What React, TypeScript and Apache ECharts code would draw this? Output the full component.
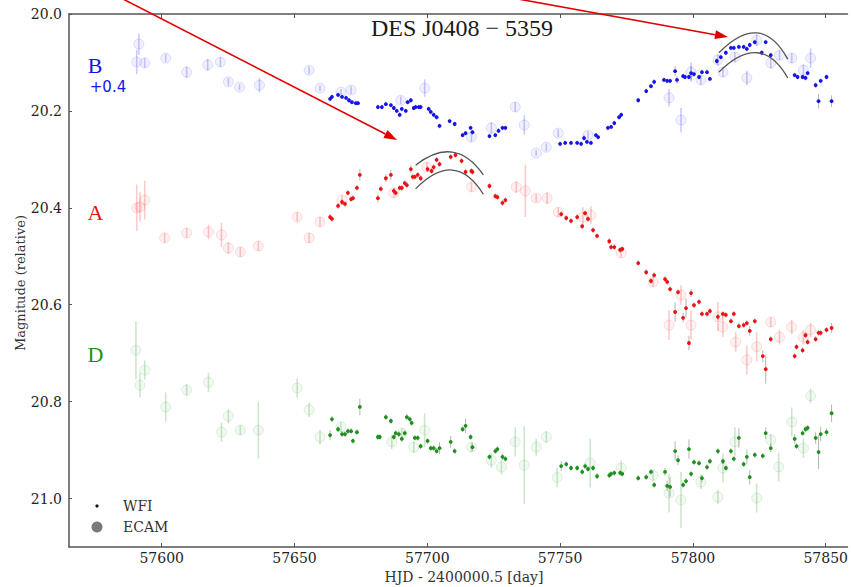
import React, { useEffect, useRef } from "react";
import * as echarts from "echarts";

// [HJD - 2400000.5, magnitude, 1-sigma error]
type Pt = [number, number, number];

const DAY_TICKS = [57600, 57650, 57700, 57750, 57800, 57850];
const MAG_TICKS = [20.0, 20.2, 20.4, 20.6, 20.8, 21.0];

// Image B (plotted with +0.4 offset)
const bEcam: Pt[] = [
  [57591.4, 20.062, 0.022], [57590.6, 20.099, 0.025], [57593.6, 20.101, 0.01], [57601.5, 20.091, 0.008],
  [57609.4, 20.12, 0.012], [57617.3, 20.105, 0.012], [57622.1, 20.099, 0.01], [57625.1, 20.14, 0.008],
  [57629.3, 20.151, 0.006], [57636.8, 20.147, 0.015], [57655.5, 20.116, 0.008], [57659.6, 20.153, 0.006],
  [57667.5, 20.161, 0.006], [57671.3, 20.157, 0.008], [57690.0, 20.178, 0.008], [57699.0, 20.153, 0.018],
  [57716.6, 20.254, 0.01], [57724.1, 20.235, 0.012], [57733.1, 20.192, 0.01], [57736.5, 20.229, 0.02],
  [57741.0, 20.287, 0.006], [57744.8, 20.275, 0.008], [57749.3, 20.246, 0.008], [57760.5, 20.25, 0.008],
  [57791.0, 20.173, 0.018], [57795.5, 20.219, 0.025], [57799.3, 20.12, 0.02], [57803.0, 20.136, 0.01],
  [57809.4, 20.095, 0.012], [57811.3, 20.12, 0.01], [57815.8, 20.089, 0.01], [57820.3, 20.132, 0.015],
  [57824.0, 20.054, 0.012], [57829.3, 20.101, 0.012], [57832.6, 20.085, 0.01], [57837.2, 20.091, 0.01],
  [57841.6, 20.116, 0.012], [57844.3, 20.091, 0.02],
];

const bWfi: Pt[] = [
  [57663.4, 20.175, 0.005], [57664.1, 20.171, 0.005], [57666.4, 20.167, 0.005], [57667.9, 20.171, 0.005],
  [57669.4, 20.173, 0.005], [57670.5, 20.178, 0.005], [57671.6, 20.182, 0.005], [57673.1, 20.184, 0.005],
  [57673.9, 20.184, 0.005], [57681.4, 20.192, 0.005], [57682.9, 20.192, 0.005], [57684.4, 20.186, 0.005],
  [57686.3, 20.188, 0.005], [57687.4, 20.194, 0.005], [57688.5, 20.2, 0.005], [57689.6, 20.208, 0.005],
  [57690.4, 20.196, 0.005], [57691.9, 20.2, 0.005], [57692.6, 20.182, 0.005], [57693.8, 20.178, 0.005],
  [57694.9, 20.194, 0.005], [57695.6, 20.192, 0.005], [57696.8, 20.192, 0.005], [57697.5, 20.192, 0.005],
  [57700.5, 20.196, 0.005], [57701.3, 20.202, 0.005], [57702.4, 20.208, 0.005], [57703.5, 20.213, 0.005],
  [57704.6, 20.231, 0.005], [57708.4, 20.221, 0.005], [57710.3, 20.227, 0.005], [57713.3, 20.25, 0.005],
  [57714.4, 20.246, 0.005], [57716.3, 20.235, 0.005], [57717.0, 20.244, 0.005], [57723.4, 20.252, 0.005],
  [57725.6, 20.25, 0.005], [57726.8, 20.241, 0.005], [57728.3, 20.235, 0.005], [57729.4, 20.235, 0.005],
  [57750.0, 20.268, 0.005], [57751.9, 20.266, 0.005], [57754.1, 20.266, 0.005], [57756.4, 20.266, 0.005],
  [57757.9, 20.268, 0.005], [57759.0, 20.256, 0.006], [57760.1, 20.264, 0.005], [57761.6, 20.266, 0.005],
  [57763.5, 20.25, 0.005], [57764.3, 20.254, 0.005], [57768.0, 20.235, 0.005], [57769.2, 20.233, 0.005],
  [57770.4, 20.225, 0.005], [57772.2, 20.213, 0.005], [57773.0, 20.208, 0.005], [57779.4, 20.178, 0.005],
  [57782.4, 20.159, 0.005], [57784.2, 20.149, 0.005], [57785.4, 20.14, 0.006], [57789.1, 20.136, 0.005],
  [57790.3, 20.138, 0.005], [57791.4, 20.138, 0.005], [57793.3, 20.118, 0.01], [57794.0, 20.136, 0.008],
  [57796.3, 20.128, 0.005], [57797.0, 20.13, 0.005], [57798.5, 20.13, 0.005], [57799.3, 20.122, 0.015],
  [57800.4, 20.124, 0.005], [57802.3, 20.13, 0.005], [57803.4, 20.12, 0.005], [57805.3, 20.12, 0.005],
  [57806.4, 20.134, 0.005], [57809.0, 20.097, 0.006], [57810.5, 20.089, 0.005], [57812.4, 20.08, 0.005],
  [57814.3, 20.07, 0.005], [57815.4, 20.07, 0.005], [57817.3, 20.068, 0.005], [57819.1, 20.068, 0.005],
  [57820.3, 20.072, 0.005], [57821.4, 20.064, 0.005], [57823.3, 20.058, 0.005], [57825.9, 20.08, 0.005],
  [57827.4, 20.058, 0.005], [57829.3, 20.085, 0.005], [57838.3, 20.126, 0.005], [57839.4, 20.13, 0.005],
  [57841.3, 20.13, 0.005], [57842.4, 20.132, 0.005], [57843.2, 20.122, 0.005], [57846.2, 20.147, 0.006],
  [57848.1, 20.138, 0.005], [57850.3, 20.13, 0.005], [57847.3, 20.18, 0.015], [57852.2, 20.18, 0.012],
];

// Image A
const aEcam: Pt[] = [
  [57590.6, 20.4, 0.048], [57591.8, 20.398, 0.03], [57593.6, 20.384, 0.04], [57601.1, 20.462, 0.01],
  [57609.4, 20.452, 0.01], [57617.6, 20.45, 0.015], [57622.5, 20.456, 0.025], [57625.1, 20.483, 0.012],
  [57629.6, 20.491, 0.01], [57636.4, 20.479, 0.01], [57651.0, 20.419, 0.01], [57655.5, 20.462, 0.01],
  [57659.6, 20.429, 0.01], [57667.9, 20.384, 0.01], [57687.4, 20.369, 0.01], [57699.8, 20.316, 0.01],
  [57716.6, 20.357, 0.01], [57733.5, 20.357, 0.012], [57736.9, 20.365, 0.054], [57741.0, 20.38, 0.008],
  [57745.1, 20.38, 0.012], [57749.3, 20.409, 0.01], [57758.6, 20.419, 0.02], [57761.6, 20.415, 0.018],
  [57773.0, 20.493, 0.01], [57785.0, 20.553, 0.01], [57791.0, 20.642, 0.031], [57795.5, 20.58, 0.02],
  [57799.3, 20.642, 0.03], [57809.4, 20.625, 0.03], [57811.3, 20.646, 0.02], [57816.1, 20.677, 0.02],
  [57820.3, 20.714, 0.03], [57824.0, 20.687, 0.03], [57829.3, 20.636, 0.01], [57832.6, 20.667, 0.015],
  [57837.2, 20.646, 0.015], [57841.6, 20.667, 0.015], [57844.3, 20.652, 0.015],
];

const aWfi: Pt[] = [
  [57663.4, 20.419, 0.006], [57664.1, 20.423, 0.006], [57666.4, 20.396, 0.006], [57667.9, 20.388, 0.006],
  [57669.0, 20.392, 0.006], [57670.1, 20.369, 0.006], [57671.3, 20.382, 0.006], [57672.0, 20.38, 0.006],
  [57673.5, 20.359, 0.006], [57674.6, 20.332, 0.012], [57681.4, 20.38, 0.008], [57682.5, 20.361, 0.006],
  [57684.4, 20.339, 0.008], [57686.3, 20.332, 0.01], [57687.4, 20.365, 0.006], [57688.1, 20.369, 0.006],
  [57689.6, 20.359, 0.006], [57690.4, 20.359, 0.006], [57691.5, 20.349, 0.006], [57692.3, 20.353, 0.006],
  [57693.8, 20.32, 0.008], [57694.5, 20.336, 0.006], [57695.3, 20.336, 0.006], [57696.4, 20.332, 0.006],
  [57697.5, 20.339, 0.006], [57700.1, 20.32, 0.006], [57701.6, 20.324, 0.006], [57702.4, 20.316, 0.006],
  [57703.5, 20.301, 0.006], [57704.6, 20.31, 0.006], [57708.8, 20.295, 0.006], [57710.6, 20.291, 0.006],
  [57712.9, 20.303, 0.006], [57714.4, 20.326, 0.006], [57716.6, 20.324, 0.006], [57717.0, 20.326, 0.006],
  [57723.4, 20.355, 0.006], [57725.6, 20.376, 0.006], [57726.4, 20.378, 0.006], [57728.3, 20.39, 0.006],
  [57729.4, 20.384, 0.006], [57750.4, 20.413, 0.006], [57752.3, 20.421, 0.006], [57754.1, 20.427, 0.006],
  [57756.4, 20.419, 0.006], [57758.3, 20.438, 0.006], [57759.4, 20.411, 0.006], [57760.5, 20.423, 0.006],
  [57762.4, 20.446, 0.006], [57763.9, 20.458, 0.006], [57768.5, 20.469, 0.006], [57769.2, 20.481, 0.006],
  [57770.4, 20.481, 0.006], [57772.6, 20.487, 0.006], [57773.4, 20.485, 0.006], [57779.4, 20.514, 0.006],
  [57782.4, 20.533, 0.006], [57784.2, 20.551, 0.006], [57785.4, 20.539, 0.006], [57789.5, 20.547, 0.006],
  [57790.3, 20.553, 0.006], [57791.4, 20.568, 0.006], [57793.3, 20.615, 0.02], [57794.4, 20.574, 0.006],
  [57796.3, 20.627, 0.01], [57797.4, 20.607, 0.02], [57798.5, 20.679, 0.015], [57799.3, 20.576, 0.008],
  [57800.4, 20.601, 0.006], [57802.3, 20.594, 0.006], [57803.4, 20.619, 0.006], [57805.3, 20.619, 0.006],
  [57806.4, 20.613, 0.006], [57809.4, 20.625, 0.006], [57811.3, 20.619, 0.006], [57812.4, 20.621, 0.006],
  [57814.3, 20.634, 0.006], [57815.4, 20.619, 0.006], [57817.3, 20.644, 0.006], [57819.1, 20.642, 0.006],
  [57820.3, 20.638, 0.006], [57821.4, 20.654, 0.01], [57823.3, 20.634, 0.006], [57826.3, 20.706, 0.012],
  [57827.4, 20.733, 0.03], [57829.3, 20.671, 0.006], [57838.3, 20.706, 0.006], [57839.0, 20.687, 0.006],
  [57841.3, 20.694, 0.006], [57842.4, 20.663, 0.006], [57843.2, 20.677, 0.006], [57846.2, 20.671, 0.006],
  [57847.3, 20.658, 0.006], [57848.1, 20.658, 0.006], [57850.3, 20.652, 0.006], [57852.2, 20.648, 0.01],
];

// Image D
const dEcam: Pt[] = [
  [57590.3, 20.694, 0.06], [57593.6, 20.735, 0.02], [57591.8, 20.766, 0.025], [57601.5, 20.811, 0.03],
  [57609.4, 20.776, 0.012], [57617.6, 20.76, 0.02], [57622.5, 20.863, 0.02], [57625.1, 20.83, 0.015],
  [57629.6, 20.859, 0.01], [57636.4, 20.859, 0.058], [57651.0, 20.772, 0.02], [57655.5, 20.817, 0.015],
  [57659.6, 20.873, 0.015], [57667.5, 20.852, 0.01], [57686.6, 20.883, 0.015], [57690.4, 20.865, 0.01],
  [57694.9, 20.894, 0.012], [57699.0, 20.859, 0.035], [57716.6, 20.894, 0.01], [57724.1, 20.921, 0.015],
  [57727.9, 20.935, 0.015], [57733.1, 20.883, 0.03], [57736.5, 20.931, 0.08], [57741.0, 20.894, 0.018],
  [57744.8, 20.873, 0.012], [57748.9, 20.956, 0.02], [57761.3, 20.927, 0.05], [57773.0, 20.937, 0.015],
  [57785.0, 20.952, 0.012], [57791.0, 20.989, 0.04], [57795.5, 21.003, 0.058], [57803.0, 20.966, 0.015],
  [57809.4, 20.997, 0.015], [57811.3, 20.937, 0.03], [57815.8, 20.883, 0.03], [57824.0, 20.999, 0.03],
  [57829.3, 20.879, 0.012], [57832.3, 20.935, 0.03], [57837.2, 20.842, 0.03], [57841.6, 20.896, 0.02],
  [57844.3, 20.788, 0.015],
];

const dWfi: Pt[] = [
  [57663.4, 20.869, 0.01], [57664.1, 20.836, 0.006], [57666.4, 20.857, 0.006], [57667.9, 20.867, 0.006],
  [57669.0, 20.867, 0.006], [57670.1, 20.861, 0.006], [57671.3, 20.861, 0.006], [57672.0, 20.881, 0.006],
  [57673.5, 20.863, 0.006], [57674.6, 20.811, 0.017], [57681.4, 20.873, 0.006], [57682.1, 20.873, 0.006],
  [57684.4, 20.832, 0.006], [57686.3, 20.84, 0.006], [57687.4, 20.873, 0.006], [57688.1, 20.865, 0.006],
  [57689.3, 20.867, 0.006], [57690.4, 20.877, 0.006], [57691.5, 20.865, 0.006], [57692.3, 20.832, 0.006],
  [57693.4, 20.836, 0.006], [57694.1, 20.844, 0.006], [57695.3, 20.875, 0.006], [57696.4, 20.875, 0.006],
  [57697.5, 20.892, 0.006], [57700.1, 20.881, 0.006], [57701.3, 20.896, 0.006], [57702.4, 20.896, 0.006],
  [57703.5, 20.902, 0.006], [57704.6, 20.896, 0.012], [57708.8, 20.883, 0.012], [57710.3, 20.902, 0.006],
  [57713.3, 20.857, 0.006], [57714.4, 20.85, 0.015], [57716.3, 20.873, 0.006], [57717.0, 20.894, 0.008],
  [57723.4, 20.914, 0.006], [57725.6, 20.902, 0.006], [57726.4, 20.898, 0.006], [57728.3, 20.914, 0.006],
  [57729.4, 20.918, 0.006], [57750.4, 20.933, 0.01], [57752.3, 20.929, 0.006], [57754.1, 20.937, 0.006],
  [57756.4, 20.937, 0.006], [57758.3, 20.945, 0.006], [57759.4, 20.933, 0.006], [57760.5, 20.939, 0.006],
  [57762.4, 20.937, 0.006], [57763.9, 20.954, 0.006], [57768.5, 20.952, 0.006], [57769.2, 20.949, 0.006],
  [57770.4, 20.947, 0.006], [57772.6, 20.947, 0.006], [57773.4, 20.949, 0.006], [57779.4, 20.958, 0.006],
  [57782.4, 20.956, 0.006], [57784.2, 20.945, 0.006], [57785.4, 20.972, 0.006], [57789.5, 20.945, 0.008],
  [57790.3, 20.974, 0.01], [57791.4, 20.976, 0.02], [57793.3, 20.902, 0.02], [57794.4, 20.921, 0.01],
  [57796.3, 20.972, 0.006], [57797.4, 20.964, 0.006], [57798.5, 20.898, 0.02], [57799.3, 20.949, 0.006],
  [57800.4, 20.925, 0.006], [57802.3, 20.927, 0.006], [57803.4, 20.958, 0.008], [57805.3, 20.935, 0.006],
  [57806.4, 20.923, 0.006], [57809.4, 20.902, 0.006], [57811.3, 20.923, 0.006], [57812.4, 20.937, 0.006],
  [57814.3, 20.902, 0.006], [57815.4, 20.918, 0.006], [57817.3, 20.875, 0.02], [57819.1, 20.929, 0.006],
  [57820.3, 20.914, 0.015], [57821.4, 20.956, 0.015], [57823.3, 20.91, 0.006], [57826.3, 20.912, 0.006],
  [57827.4, 20.865, 0.012], [57829.3, 20.896, 0.008], [57838.3, 20.877, 0.01], [57839.0, 20.892, 0.006],
  [57841.3, 20.865, 0.006], [57842.4, 20.857, 0.006], [57843.2, 20.854, 0.006], [57846.2, 20.875, 0.012],
  [57847.3, 20.904, 0.035], [57848.1, 20.867, 0.015], [57850.3, 20.863, 0.008], [57852.2, 20.824, 0.018],
];

// Parabolic guide arcs around the two light-curve maxima: [start, peak, end]
const arcAUpper: [number, number][] = [[57695.6, 20.312], [57709.4, 20.285], [57721.1, 20.332]];
const arcALower: [number, number][] = [[57695.6, 20.361], [57709.4, 20.322], [57721.1, 20.372]];
const arcBUpper: [number, number][] = [[57809.8, 20.080], [57824.1, 20.039], [57835.7, 20.093]];
const arcBLower: [number, number][] = [[57809.8, 20.120], [57824.1, 20.080], [57835.7, 20.132]];

const BLUE = "#1414e6";
const RED = "#ee1111";
const GREEN = "#1c921c";

function rgba(hex: string, a: number) {
  const n = parseInt(hex.slice(1), 16);
  return `rgba(${(n >> 16) & 255},${(n >> 8) & 255},${n & 255},${a})`;
}

function ecamSeries(data: Pt[], color: string) {
  return {
    type: "custom",
    xAxisIndex: 0,
    yAxisIndex: 0,
    data,
    z: 2,
    renderItem: (_p: any, api: any) => {
      const x = api.value(0), y = api.value(1), e = api.value(2);
      const c = api.coord([x, y]);
      const t = api.coord([x, y - e]);
      const b = api.coord([x, y + e]);
      return {
        type: "group",
        children: [
          { type: "line", shape: { x1: c[0], y1: t[1], x2: c[0], y2: b[1] }, style: { stroke: rgba(color, 0.22), lineWidth: 1.6 } },
          { type: "circle", shape: { cx: c[0], cy: c[1], r: 5 }, style: { fill: rgba(color, 0.06), stroke: rgba(color, 0.13), lineWidth: 1 } },
        ],
      };
    },
  };
}

function wfiSeries(data: Pt[], color: string) {
  return {
    type: "custom",
    xAxisIndex: 0,
    yAxisIndex: 0,
    data,
    z: 3,
    renderItem: (_p: any, api: any) => {
      const x = api.value(0), y = api.value(1), e = api.value(2);
      const c = api.coord([x, y]);
      const t = api.coord([x, y - e]);
      const b = api.coord([x, y + e]);
      return {
        type: "group",
        children: [
          { type: "line", shape: { x1: c[0], y1: t[1], x2: c[0], y2: b[1] }, style: { stroke: "rgba(110,110,110,0.5)", lineWidth: 1 } },
          { type: "circle", shape: { cx: c[0], cy: c[1], r: 1.9 }, style: { fill: color } },
        ],
      };
    },
  };
}

const SERIF = "'DejaVu Serif', serif";

export default function App() {
  const ref = useRef<HTMLDivElement>(null);

  useEffect(() => {
    document.body.style.margin = "0";
    if (!ref.current) return;
    const chart = echarts.init(ref.current, null, { renderer: "svg" });

    const axisLine = { show: true, lineStyle: { color: "#555", width: 1.5 } };
    chart.setOption({
      animation: false,
      backgroundColor: "#fff",
      grid: { left: 69, right: 0, top: 14, bottom: 40 },
      xAxis: [
        {
          type: "value",
          min: 57565.1,
          max: 57858.2,
          position: "bottom",
          axisLine,
          splitLine: { show: false },
          axisTick: { show: true, inside: true, length: 4, customValues: DAY_TICKS, lineStyle: { color: "#555" } },
          axisLabel: {
            customValues: DAY_TICKS,
            formatter: (v: number) => String(v),
            color: "#222",
            fontFamily: SERIF,
            fontSize: 14,
            margin: 4,
          },
        },
        {
          type: "value",
          min: 57565.1,
          max: 57858.2,
          position: "top",
          axisLine,
          splitLine: { show: false },
          axisTick: { show: true, inside: true, length: 4, customValues: DAY_TICKS, lineStyle: { color: "#555" } },
          axisLabel: { show: false },
        },
      ],
      yAxis: {
        type: "value",
        inverse: true,
        min: 20.0,
        max: 21.1,
        axisLine,
        splitLine: { show: false },
        axisTick: { show: true, inside: true, length: 3, customValues: MAG_TICKS, lineStyle: { color: "#555" } },
        axisLabel: {
          customValues: MAG_TICKS,
          formatter: (v: number) => v.toFixed(1),
          color: "#222",
          fontFamily: SERIF,
          fontSize: 14,
          margin: 7,
        },
      },
      series: [
        ecamSeries(bEcam, BLUE),
        ecamSeries(aEcam, RED),
        ecamSeries(dEcam, GREEN),
        wfiSeries(bWfi, BLUE),
        wfiSeries(aWfi, RED),
        wfiSeries(dWfi, GREEN),
      ],
    });

    const px = (p: [number, number]) => chart.convertToPixel({ gridIndex: 0 }, p) as number[];
    const arc = (pts: [number, number][]) => {
      const s = px(pts[0]), m = px(pts[1]), e = px(pts[2]);
      const cx = 2 * m[0] - (s[0] + e[0]) / 2;
      const cy = 2 * m[1] - (s[1] + e[1]) / 2;
      return {
        type: "bezierCurve",
        shape: { x1: s[0], y1: s[1], x2: e[0], y2: e[1], cpx1: cx, cpy1: cy },
        style: { stroke: "#555", lineWidth: 1.3, fill: null },
        z: 10,
      };
    };

    const arrow = (x0: number, y0: number, tx: number, ty: number) => {
      const dx = tx - x0, dy = ty - y0;
      const L = Math.hypot(dx, dy);
      const ux = dx / L, uy = dy / L;
      const nx = -uy, ny = ux;
      const bx = tx - 13 * ux, by = ty - 13 * uy;
      return [
        { type: "line", shape: { x1: x0, y1: y0, x2: bx, y2: by }, style: { stroke: "#e00000", lineWidth: 1.6 }, z: 20 },
        {
          type: "polygon",
          shape: { points: [[tx, ty], [bx + 4.5 * nx, by + 4.5 * ny], [bx - 4.5 * nx, by - 4.5 * ny]] },
          style: { fill: "#e00000" },
          z: 20,
        },
      ];
    };

    const text = (t: string, x: number, y: number, font: string, fill: string, extra: any = {}) => ({
      type: "text",
      x,
      y,
      z: 15,
      ...extra,
      style: { text: t, font, fill, textAlign: "center", textVerticalAlign: "middle", ...(extra.style || {}) },
    });

    chart.setOption({
      graphic: [
        arc(arcAUpper),
        arc(arcALower),
        arc(arcBUpper),
        arc(arcBLower),
        ...arrow(123, -1, 397, 140),
        ...arrow(518, -1, 728, 37),
        text("DES J0408 \u2212 5359", 462, 28, "24px 'Liberation Serif'", "#1a1a1a"),
        text("B", 95, 65, "22px 'Liberation Serif'", BLUE),
        text("+0.4", 108, 87, "15px 'DejaVu Sans'", BLUE),
        text("A", 95.5, 212.5, "22px 'Liberation Serif'", RED),
        text("D", 95.5, 354.5, "22px 'Liberation Serif'", GREEN),
        text("Magnitude (relative)", 20, 283, `13px ${SERIF}`, "#333", { rotation: Math.PI / 2 }),
        text("HJD - 2400000.5 [day]", 464, 577, `14px ${SERIF}`, "#333"),
        { type: "circle", shape: { cx: 97, cy: 506, r: 1.6 }, style: { fill: "#111" }, z: 15 },
        { type: "circle", shape: { cx: 97, cy: 527, r: 5.5 }, style: { fill: "#7a7a7a" }, z: 15 },
        {
          type: "text", x: 123, y: 506, z: 15,
          style: { text: "WFI", font: `14px ${SERIF}`, fill: "#333", textAlign: "left", textVerticalAlign: "middle" },
        },
        {
          type: "text", x: 123, y: 527, z: 15,
          style: { text: "ECAM", font: `14px ${SERIF}`, fill: "#333", textAlign: "left", textVerticalAlign: "middle" },
        },
      ],
    });

    return () => chart.dispose();
  }, []);

  return <div ref={ref} style={{ width: 851, height: 587 }} />;
}
